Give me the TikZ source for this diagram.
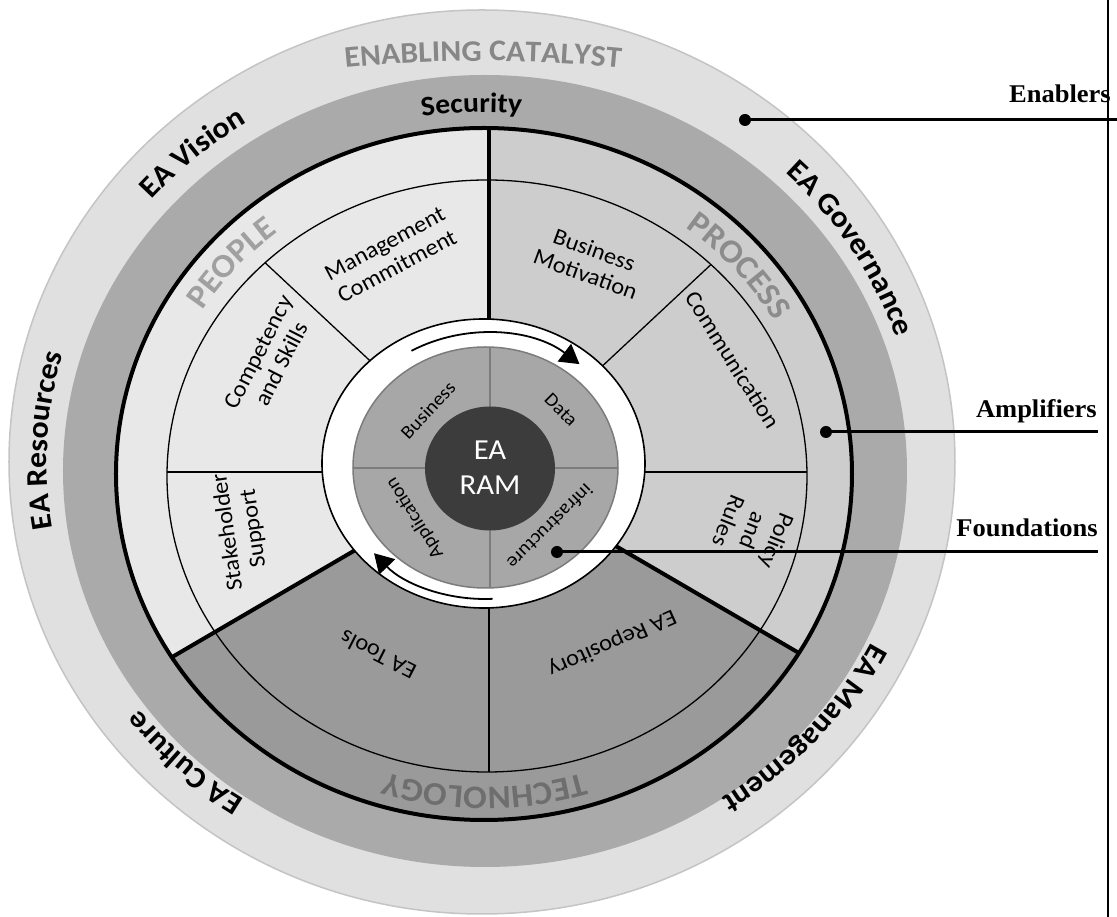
\documentclass[tikz,border=0pt]{standalone}
\usepackage{fontspec}
\setmainfont{Carlito}[FakeStretch=1.06]
\newfontfamily\labserif{Liberation Serif}[FakeStretch=1.04]
\usetikzlibrary{decorations.text,arrows.meta}
\definecolor{ringlight}{HTML}{E0E0E0}
\definecolor{ringedge}{HTML}{C4C4C4}
\definecolor{midgrey}{HTML}{AAAAAA}
\definecolor{peoplec}{HTML}{E8E8E8}
\definecolor{processc}{HTML}{CDCDCD}
\definecolor{techc}{HTML}{9A9A9A}
\definecolor{diskgrey}{HTML}{A7A7A7}
\definecolor{diskedge}{HTML}{7C7C7C}
\definecolor{darkc}{HTML}{3C3C3C}
\definecolor{catc}{HTML}{878787}
\definecolor{pplc}{HTML}{A0A0A0}
\definecolor{procc}{HTML}{8C8C8C}
\definecolor{techtc}{HTML}{6E6E6E}
\newcommand\olabfont{\bfseries\fontsize{30}{30}\selectfont}
\newcommand\seclabfont{\bfseries\fontsize{33}{33}\selectfont}
\tikzset{
  arctext/.style={decorate,decoration={text along path,text={#1},text align=center}},
  sectxt/.style={font=\fontsize{23}{26}\selectfont,align=center,inner sep=0pt},
  disktxt/.style={font=\fontsize{19}{21}\selectfont,inner sep=0pt},
  sidelab/.style={font=\labserif\bfseries\fontsize{25.5}{26}\selectfont,inner sep=0pt,anchor=base east},
  dotn/.style={circle,fill=black,minimum size=12pt,inner sep=0pt},
  connline/.style={line width=3pt},
  cyclearrow/.style={line width=1.8pt,-{Triangle[length=19pt,width=22pt]}},
}
\begin{document}
\begin{tikzpicture}[x=1pt,y=1pt]
\useasboundingbox (-488,-447) rectangle (629,470);
% rings
\draw[fill=ringlight,draw=ringedge,line width=1.5pt] (-6,8) ellipse [x radius=473,y radius=452];
\fill[midgrey] (-3,-1) ellipse [x radius=422,y radius=396];
\begin{scope}
  \clip (-4,-4) ellipse [x radius=368,y radius=346];
  \fill[peoplec] (1,-2) -- ++(90:749 and 700) arc[start angle=90,end angle=212,x radius=749,y radius=700] -- cycle;
  \fill[techc] (1,-2) -- ++(212:749 and 700) arc[start angle=212,end angle=328,x radius=749,y radius=700] -- cycle;
  \fill[processc] (1,-2) -- ++(328:749 and 700) arc[start angle=328,end angle=450,x radius=749,y radius=700] -- cycle;
\end{scope}
\draw[line width=1.3pt] (-1,-6) ellipse [x radius=320,y radius=296];
\begin{scope}
  \clip (-1,-6) ellipse [x radius=320,y radius=296];
  \foreach \a in {0,45,135,180,270} \draw[line width=1.3pt] (1,-2) -- ++(\a:749 and 700);
\end{scope}
\begin{scope}
  \clip (-4,-4) ellipse [x radius=368,y radius=346];
  \foreach \a in {90,212,328} \draw[line width=4pt] (1,-2) -- ++(\a:749 and 700);
\end{scope}
\draw[line width=4pt] (-4,-4) ellipse [x radius=368,y radius=346];
% white ring and core
\draw[fill=white,line width=1.6pt] (-4.5,6.5) ellipse [x radius=161.5,y radius=144.5];
\draw[fill=diskgrey,draw=diskedge,line width=1.5pt] (-2.5,2.5) ellipse [x radius=132.5,y radius=120.5];
\begin{scope}
  \clip (-2.5,2.5) ellipse [x radius=132.5,y radius=120.5];
  \draw[diskedge,line width=1.5pt] (-200,2) -- (200,2) (2,-200) -- (2,200);
\end{scope}
\fill[darkc] (2,1.5) ellipse [x radius=65,y radius=62];
% cycle arrows
\draw[cyclearrow] ([shift={(-3,4)}]120:147 and 133) arc[start angle=120,end angle=50,x radius=147,y radius=133];
\draw[cyclearrow] ([shift={(-3,4)}]273:147 and 133) arc[start angle=273,end angle=221,x radius=147,y radius=133];
% outer ring texts
\path[arctext={|\olabfont\color{catc}|ENABLING CATALYST}] ([shift={(-5,-991)}]99:1400) arc[start angle=99,end angle=81,radius=1400];
\path[arctext={|\olabfont|EA Vision}] ([shift={(-6,8)}]160:435 and 403) arc[start angle=160,end angle=103,x radius=435,y radius=403];
\path[arctext={|\olabfont|EA Governance}] ([shift={(-6,8)}]62:435 and 403) arc[start angle=62,end angle=1,x radius=435,y radius=403];
\path[arctext={|\olabfont|EA Resources}] ([shift={(-6,8)}]206:435 and 403) arc[start angle=206,end angle=148,x radius=435,y radius=403];
\path[arctext={|\olabfont|EA Culture}] ([shift={(-6,8)}]254:435 and 403) arc[start angle=254,end angle=200,x radius=435,y radius=403];
\path[arctext={|\olabfont|EA  Management}] ([shift={(-6,8)}]-6:435 and 403) arc[start angle=-6,end angle=-76,x radius=435,y radius=403];
\path[arctext={|\bfseries\fontsize{28}{28}\selectfont|Security}] ([shift={(-3,-1)}]115:384 and 359) arc[start angle=115,end angle=69,x radius=384,y radius=359];
% sector band texts
\path[arctext={|\seclabfont\color{pplc}|PEOPLE}] ([shift={(-3,-5)}]162:333 and 310) arc[start angle=162,end angle=115,x radius=333,y radius=310];
\path[arctext={|\seclabfont\color{procc}|PROCESS}] ([shift={(-3,-5)}]66:333 and 310) arc[start angle=66,end angle=16,x radius=333,y radius=310];
\path[arctext={|\seclabfont\color{techtc}|TECHNOLOGY}] ([shift={(-3,-5)}]310:333 and 312) arc[start angle=310,end angle=230,x radius=333,y radius=312];
% sector texts
\node[sectxt,rotate=28] (mc) at (-97,215) {Management\\Commitment};
\node[sectxt,rotate=-20] (bm) at (102,208) {Business\\Motivation};
\node[sectxt,rotate=-58] (cm) at (245,110) {Communication};
\node[sectxt,rotate=-112] (pr) at (265,-61) {Policy\\and\\Rules};
\node[sectxt,rotate=63] (cs) at (-218,112) {Competency\\and Skills};
\node[sectxt,rotate=98] (ss) at (-247,-60) {Stakeholder\\Support};
\node[sectxt,rotate=153] (et) at (-110,-185) {EA Tools};
\node[sectxt,rotate=204] (er) at (124,-173) {EA Repository};
% disk texts
\node[disktxt,rotate=47] (bu) at (-60,60) {Business};
\node[disktxt,rotate=-45] (da) at (73,60) {Data};
\node[disktxt,rotate=122] (ap) at (-73,-48) {Application};
\node[disktxt,rotate=-135] (in) at (62,-57) {infrastructure};
\node[font=\fontsize{29}{35}\selectfont,text=white,align=center,inner sep=0pt] (ram) at (2,2) {EA\\RAM};
% side labels and connectors
\coordinate (vt) at (620,470);
\coordinate (vb) at (620,-447);
\draw[line width=1.5pt] (vt) -- (vb);
\node[sidelab] (enl) at (623,367) {Enablers};
\node[sidelab] (aml) at (609,52) {Amplifiers};
\node[sidelab] (fol) at (610,-67) {Foundations};
\node[dotn] (end) at (257,350) {};
\node[dotn] (amd) at (338,38) {};
\node[dotn] (fod) at (69,-82) {};
\coordinate (enr) at (629,350);
\coordinate (amr) at (610,38);
\coordinate (for) at (610,-82);
\draw[connline] (end.center) -- (enr);
\draw[connline] (amd.center) -- (amr);
\draw[connline] (fod.center) -- (for);
\end{tikzpicture}
\end{document}
